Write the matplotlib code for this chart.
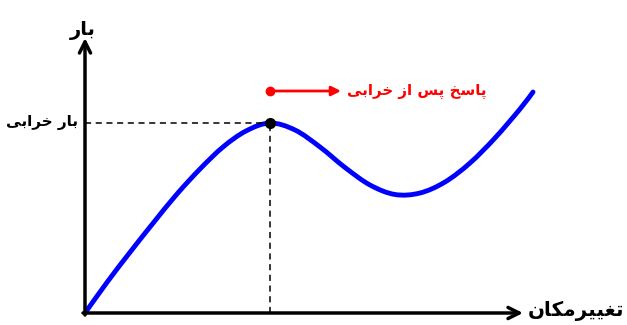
import numpy as np
import matplotlib.pyplot as plt
from matplotlib.path import Path
from matplotlib.patches import PathPatch

# load-displacement curve (displacement, load)
disp = [0, 23, 46, 69, 92, 115, 138, 161, 185, 210, 235, 260, 285, 310,
        335, 360, 385, 410, 435, 448]
load = [0, 32, 62, 91, 119, 144, 166, 182, 190, 183, 166, 145.5, 128, 118.5,
        120, 131, 150, 175, 204, 221]
peak_disp, peak_load = 185, 190

# Persian labels in visual order with presentation forms
lbl_load = "\uFEAD\uFE8E\uFE91"                                  # بار
lbl_fail = "\uFBFD\uFE91\uFE8D\uFEAE\uFEA7 \uFEAD\uFE8E\uFE91"   # بار خرابی
lbl_post = ("\uFBFD\uFE91\uFE8D\uFEAE\uFEA7 \uFEAF\uFE8D "
            "\uFEB2\uFB58 \uFEA6\uFEB3\uFE8E\uFB58")              # پاسخ پس از خرابی
lbl_disp = "\uFEE5\uFE8E\uFB91\uFEE3\uFEAE\uFBFF\uFBFF\uFED0\uFE97"  # تغییرمکان


def smooth_path(x, y):
    # Catmull-Rom through the points, as cubic Bezier segments
    p = np.column_stack([x, y]).astype(float)
    pts = [p[0]]
    codes = [Path.MOVETO]
    for i in range(len(p) - 1):
        p0 = p[i - 1] if i > 0 else p[i]
        p3 = p[i + 2] if i + 2 < len(p) else p[i + 1]
        c1 = p[i] + (p[i + 1] - p0) / 6
        c2 = p[i + 1] - (p3 - p[i]) / 6
        pts += [c1, c2, p[i + 1]]
        codes += [Path.CURVE4] * 3
    return Path(pts, codes)


fig = plt.figure(figsize=(6.27, 3.25), dpi=100)
ax = fig.add_axes([0, 0, 1, 1])
ax.set_xlim(-85, 542)
ax.set_ylim(-12, 313)
ax.axis('off')

# axes with arrow heads
ax.annotate('', xy=(0, 275), xytext=(0, -2),
            arrowprops=dict(arrowstyle='->', lw=2.5, color='black',
                            mutation_scale=20, shrinkA=0, shrinkB=0))
ax.annotate('', xy=(438, 0), xytext=(-2, 0),
            arrowprops=dict(arrowstyle='->', lw=2.5, color='black',
                            mutation_scale=20, shrinkA=0, shrinkB=0))

ax.plot([0, peak_disp], [peak_load, peak_load], color='black', lw=1.1,
        dashes=(4, 3))
ax.plot([peak_disp, peak_disp], [0, peak_load], color='black', lw=1.1,
        dashes=(4, 3))

ax.add_patch(PathPatch(smooth_path(disp, load), fill=False, edgecolor='blue',
                       lw=3.5, capstyle='round', joinstyle='round'))
ax.plot(peak_disp, peak_load, 'o', color='black', ms=7)

# post-failure arrow
ax.plot(peak_disp, 222, 'o', color='red', ms=6)
ax.annotate('', xy=(256, 222), xytext=(peak_disp, 222),
            arrowprops=dict(arrowstyle='-|>', lw=2, color='red',
                            mutation_scale=14, shrinkA=0, shrinkB=0))

ax.text(262, 222, lbl_post, color='red', fontsize=10.8, fontweight='bold',
        ha='left', va='center')
ax.text(-2, 283, lbl_load, fontsize=14, fontweight='bold',
        ha='center', va='center')
ax.text(-7, 190, lbl_fail, fontsize=11, fontweight='bold',
        ha='right', va='center')
ax.text(443, 2, lbl_disp, fontsize=14.3, fontweight='bold',
        ha='left', va='center')

fig.savefig('out.png', dpi=100)
